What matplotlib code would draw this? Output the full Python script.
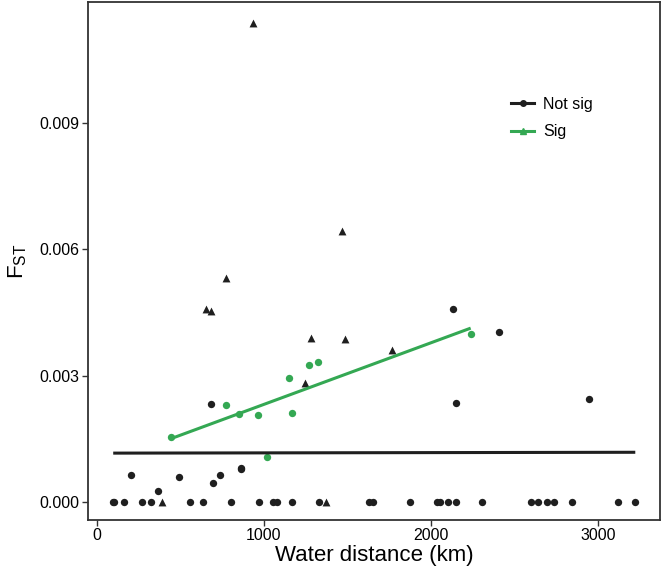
import matplotlib
matplotlib.use("Agg")
import matplotlib.pyplot as plt
from matplotlib.lines import Line2D

plt.rcParams['font.family'] = ['Liberation Sans', 'DejaVu Sans']
plt.rcParams['mathtext.fontset'] = 'custom'
plt.rcParams['mathtext.rm'] = 'Liberation Sans'
plt.rcParams['mathtext.it'] = 'Liberation Sans:italic'

# Black circles (not significant), FST = 0 row and non-zero values
ns_circ_x = [96, 102, 164, 272, 322, 559, 635, 804, 972, 1054, 1080, 1166, 1331,
             1627, 1654, 1872, 2033, 2053, 2103, 2149, 2305, 2596, 2638, 2692,
             2734, 2843, 3119, 3222,
             681, 202, 493, 735, 693, 860, 862, 366, 2133, 2408, 2151, 2945]
ns_circ_y = [0.0] * 28 + [0.00232, 0.00064, 0.00060, 0.00064, 0.00044, 0.00081,
                          0.00078, 0.00027, 0.00458, 0.00405, 0.00234, 0.00245]

# Black triangles
ns_tri_x = [934, 1467, 773, 654, 682, 1280, 1487, 1243, 1768, 391, 1371]
ns_tri_y = [0.01138, 0.00644, 0.00532, 0.00458, 0.00454, 0.00389, 0.00387,
            0.00283, 0.00361, 0.0, 0.0]

# Green circles (significant)
sig_x = [441, 773, 848, 964, 1148, 1168, 1271, 1321, 2237, 1018]
sig_y = [0.00155, 0.00231, 0.00210, 0.00207, 0.00295, 0.00211, 0.00325,
         0.00332, 0.00400, 0.00107]

# Fitted lines
ns_fit_x = [98, 3222]
ns_fit_y = [0.00116, 0.00118]
sig_fit_x = [441, 2237]
sig_fit_y = [0.00150, 0.00413]

xticks = [0, 1000, 2000, 3000]
yticks = [0.000, 0.003, 0.006, 0.009]

BLACK = '#1f1f1f'
GREEN = '#34a853'

fig = plt.figure(figsize=(6.64, 5.78), dpi=100)
ax = fig.add_axes([0.1325, 0.1003, 0.8615, 0.8962])

ax.scatter(ns_circ_x, ns_circ_y, s=28, marker='o', color=BLACK, linewidths=0, zorder=3)
ax.scatter(ns_tri_x, ns_tri_y, s=32, marker='^', color=BLACK, linewidths=0, zorder=3)
ax.scatter(sig_x, sig_y, s=28, marker='o', color=GREEN, linewidths=0, zorder=3)

ax.plot(ns_fit_x, ns_fit_y, color=BLACK, lw=2.2, solid_capstyle='butt', zorder=4)
ax.plot(sig_fit_x, sig_fit_y, color=GREEN, lw=2.2, solid_capstyle='butt', zorder=4)

ax.set_xlim(-53, 3370)
ax.set_ylim(-0.00043, 0.01188)
ax.set_xticks(xticks)
ax.set_xticklabels([str(t) for t in xticks])
ax.set_yticks(yticks)
ax.set_yticklabels([f"{t:.3f}" for t in yticks])
ax.tick_params(axis='both', direction='out', length=4, width=1, color='#333333',
               labelsize=11.5, labelcolor='black', pad=2)
for sp in ax.spines.values():
    sp.set_linewidth(1.3)
    sp.set_color('#333333')

ax.set_xlabel('Water distance (km)', fontsize=16, labelpad=1)
ax.set_ylabel(r'F$_{\mathrm{ST}}$', fontsize=16, labelpad=8)

handles = [
    Line2D([0], [0], color=BLACK, lw=2.2, marker='o', markersize=4),
    Line2D([0], [0], color=GREEN, lw=2.2, marker='^', markersize=4),
]
ax.legend(handles, ['Not sig', 'Sig'], loc='upper left',
          bbox_to_anchor=(0.715, 0.845), frameon=False, fontsize=11.5,
          handlelength=1.4, handletextpad=0.6, labelspacing=0.8)

fig.savefig('out.png', dpi=100)
